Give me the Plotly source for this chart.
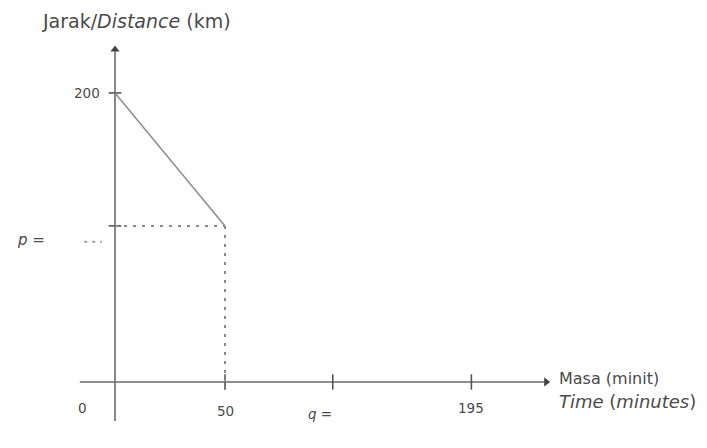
import plotly.graph_objects as go

# ---- data (schematic sketch, not to scale) ----
time_tick_labels = ["0", "50", "q =", "195"]
time_tick_pos = [0, 50, 99, 162]          # positions along the drawn time axis
distance_tick_label = "200"
distance_start = 200
p_level = 108                              # drawn level of the unknown p
travel_x = [0, 50]
travel_y = [distance_start, p_level]

x_axis_end = 196
y_axis_end = 230

AX = "#6a6a6a"
TXT = "#4a4a4a"
FONT = "DejaVu Sans"

fig = go.Figure()

# axes
fig.add_trace(go.Scatter(x=[-16, x_axis_end], y=[0, 0], mode="lines",
                         line=dict(color=AX, width=1.6), hoverinfo="skip"))
fig.add_trace(go.Scatter(x=[0, 0], y=[-27, y_axis_end], mode="lines",
                         line=dict(color=AX, width=1.6), hoverinfo="skip"))
# arrow heads
fig.add_trace(go.Scatter(x=[x_axis_end], y=[0], mode="markers",
                         marker=dict(symbol="triangle-right", size=8, color="#444"), hoverinfo="skip"))
fig.add_trace(go.Scatter(x=[0], y=[y_axis_end], mode="markers",
                         marker=dict(symbol="triangle-up", size=8, color="#444"), hoverinfo="skip"))

# x ticks
fig.add_trace(go.Scatter(x=time_tick_pos[1:], y=[0] * 3, mode="markers",
                         marker=dict(symbol="line-ns-open", size=11, color="#555",
                                     line=dict(color="#555", width=1.6)),
                         hoverinfo="skip"))
# y ticks
fig.add_trace(go.Scatter(x=[0, 0], y=[distance_start, p_level], mode="markers",
                         marker=dict(symbol="line-ew-open", size=9, color="#555",
                                     line=dict(color="#555", width=1.6)),
                         hoverinfo="skip"))

# travel line
fig.add_trace(go.Scatter(x=travel_x, y=travel_y, mode="lines",
                         line=dict(color="#978d8d", width=1.6), hoverinfo="skip"))
# dotted guides
fig.add_trace(go.Scatter(x=[0, travel_x[1]], y=[p_level, p_level], mode="lines",
                         line=dict(color="#8a8a8a", width=2, dash="3px,6px"), hoverinfo="skip"))
fig.add_trace(go.Scatter(x=[travel_x[1], travel_x[1]], y=[p_level, 0], mode="lines",
                         line=dict(color="#8a8a8a", width=2, dash="3px,6px"), hoverinfo="skip"))
# answer blank for p
fig.add_trace(go.Scatter(x=[-14, -6], y=[p_level - 11, p_level - 11], mode="lines",
                         line=dict(color="#9a9a9a", width=2, dash="3px,5px"), hoverinfo="skip"))

ann = []
def txt(x, y, s, xa="center", size=13):
    ann.append(dict(x=x, y=y, xref="x", yref="y", text=s, showarrow=False,
                    xanchor=xa, yanchor="middle", font=dict(family=FONT, size=size, color=TXT)))

txt(-34, 250, "Jarak/<i>Distance</i> (km)", xa="left", size=19)
txt(-6, distance_start, distance_tick_label, xa="right", size=13.5)
txt(-38, p_level - 10, "<i>p</i> =", xa="center", size=15)
txt(-15, -18, time_tick_labels[0], size=13.5)
txt(time_tick_pos[1], -20, time_tick_labels[1], size=13.5)
txt(time_tick_pos[2] - 6, -22, "<i>q</i> =", size=13.5)
txt(time_tick_pos[3], -18, time_tick_labels[3], size=13.5)
txt(201, 2.5, "Masa (minit)", xa="left", size=16)
txt(201, -13.5, "<i>Time</i> (<i>minutes</i>)", xa="left", size=18)

# page body has an 8px margin: size the figure to fit and map data so marks land in place
fig.update_layout(
    width=699, height=440,
    margin=dict(l=0, r=0, t=0, b=0),
    paper_bgcolor="white", plot_bgcolor="white",
    showlegend=False,
    annotations=ann,
    xaxis=dict(range=[-48.64, 269.1], visible=False, fixedrange=True),
    yaxis=dict(range=[-45.7, 258.8], visible=False, fixedrange=True),
)

fig.write_html("out.html")
